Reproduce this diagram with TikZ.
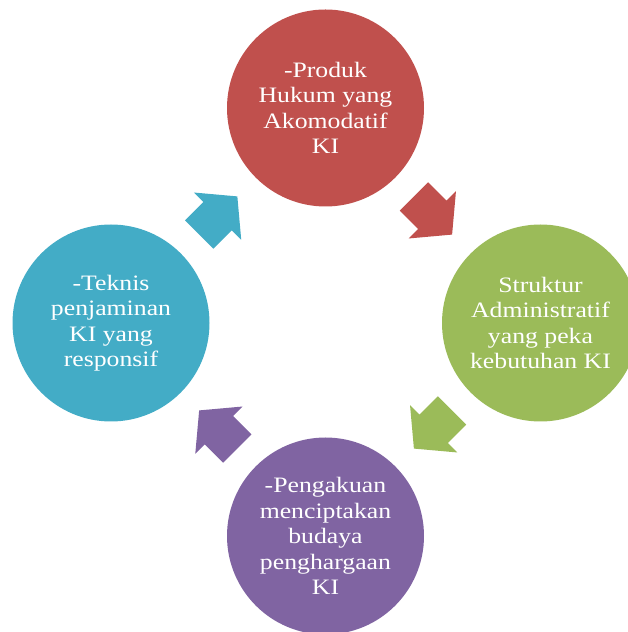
\documentclass[tikz,border=0pt]{standalone}
\usepackage{fontspec}
\setmainfont{Liberation Serif}[FakeStretch=1.17]
\usetikzlibrary{calc}
\definecolor{kired}{HTML}{C0504D}
\definecolor{kigreen}{HTML}{9BBB59}
\definecolor{kipurple}{HTML}{8064A2}
\definecolor{kiblue}{HTML}{43ACC6}
\begin{document}
\begin{tikzpicture}[x=1pt, y=1pt,
  bubble/.style={circle, minimum size=197pt, inner sep=0pt, text=white,
    align=center, font=\fontsize{22}{25.5}\selectfont}]
\useasboundingbox (0,0) rectangle (628,632);
\node [bubble, fill=kired] (produk) at (325.5,524) {-Produk\\Hukum yang\\Akomodatif\\KI};
\node [bubble, fill=kigreen] (struktur) at (540.5,309) {Struktur\\Administratif\\yang peka\\kebutuhan KI};
\node [bubble, fill=kipurple] (pengakuan) at (325.5,96) {-Pengakuan\\menciptakan\\budaya\\penghargaan\\KI};
\node [bubble, fill=kiblue] (teknis) at (111,309) {-Teknis\\penjaminan\\KI yang\\responsif};
% block arrows between the circles
\foreach \a/\b/\c/\r in {teknis/produk/kiblue/45, produk/struktur/kired/-45,
    struktur/pengakuan/kigreen/-135, pengakuan/teknis/kipurple/135}
  \fill [\c, shift={($(\a)!0.5!(\b)$)}, rotate=\r]
    (-27,-20) -- (-1,-20) -- (-1,-33.5) -- (27,0) -- (-1,33.5) -- (-1,20) -- (-27,20) -- cycle;
\end{tikzpicture}
\end{document}
